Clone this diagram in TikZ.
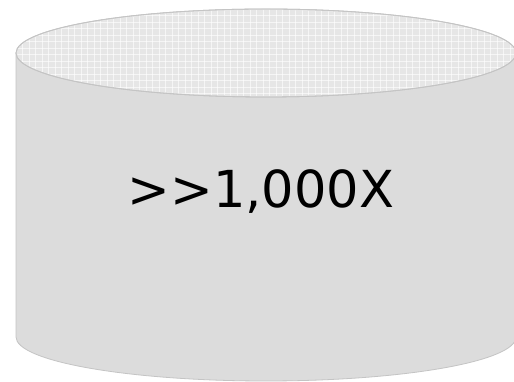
\documentclass[tikz,border=0pt]{standalone}
\usepackage{fontspec}
\setmainfont{DejaVu Sans}[Ligatures=TeXOff]
\definecolor{sidegray}{HTML}{DCDCDC}
\definecolor{topgray}{HTML}{E6E6E6}
\definecolor{edgegray}{HTML}{C4C4C4}
\tikzset{
  cylside/.style={fill=sidegray, draw=edgegray, line width=0.8pt},
  cyltop/.style={fill=topgray, draw=edgegray, line width=0.8pt},
  gridline/.style={draw=white, line width=0.7pt, opacity=0.6},
  bigtext/.style={font=\fontsize{51}{60}\selectfont, text=black, inner sep=0pt}
}
\begin{document}
\begin{tikzpicture}[x=1pt,y=1pt]
\useasboundingbox (0,0) rectangle (514,382);
\fill[white] (0,0) rectangle (514,382);
% body
\path[cylside] (16,329) -- (16,45) arc[start angle=180,end angle=360,x radius=250,y radius=44] -- (516,329) -- cycle;
% top
\path[cyltop] (266,329) ellipse[x radius=250,y radius=44];
\begin{scope}
  \clip (266,329) ellipse[x radius=249,y radius=43];
  \foreach \i in {0,...,80} { \draw[gridline] (16+\i*6.5,280) -- (16+\i*6.5,380); }
  \foreach \j in {0,...,16} { \draw[gridline] (10,282+\j*6.5) -- (520,282+\j*6.5); }
\end{scope}
\draw[edgegray, line width=0.8pt] (266,329) ellipse[x radius=250,y radius=44];
\node[bigtext] (label) at (261,190) {>>1,000X};
\end{tikzpicture}
\end{document}
